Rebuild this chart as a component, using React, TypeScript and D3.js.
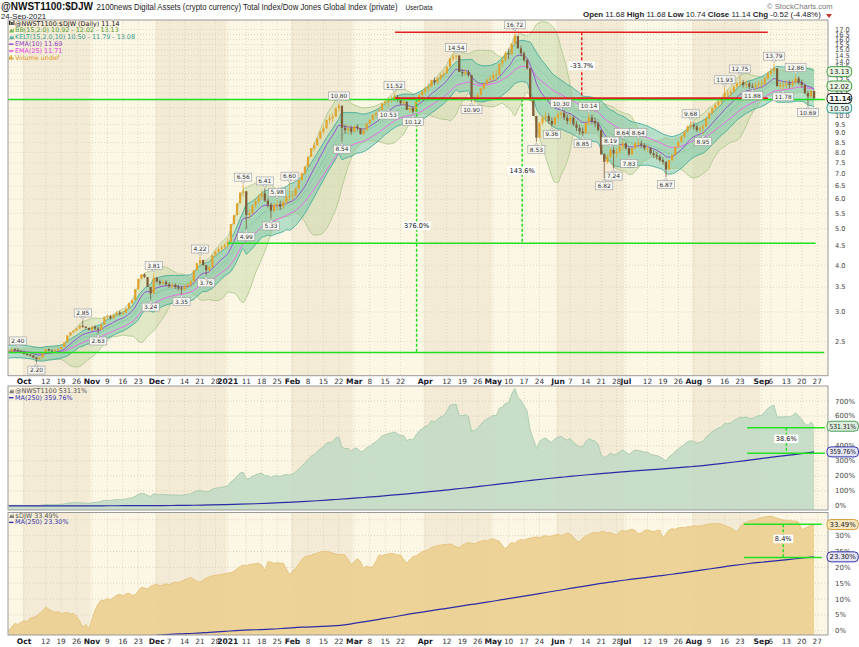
import React from "react";
import * as d3 from "d3";

// ---------------- DATA ----------------
// Daily closes of @NWST1100:$DJW, one per weekday from 24-Sep-2020 to 24-Sep-2021
const CLOSE: number[] = [
  2.355, 2.39, 2.37, 2.36, 2.35, 2.32, 2.31, 2.30, 2.27, 2.25,
  2.27, 2.33, 2.39, 2.37, 2.36, 2.38, 2.39, 2.42, 2.49, 2.60,
  2.65, 2.68, 2.71, 2.76, 2.74, 2.72, 2.69, 2.74, 2.71, 2.69,
  2.78, 2.91, 2.92, 2.89, 2.95, 2.99, 2.97, 2.99, 3.06, 3.17,
  3.23, 3.45, 3.68, 3.78, 3.72, 3.50, 3.36, 3.70, 3.62, 3.58,
  3.61, 3.56, 3.52, 3.54, 3.50, 3.47, 3.45, 3.52, 3.55, 3.62,
  3.88, 4.05, 4.13, 4.00, 3.88, 3.95, 4.25, 4.35, 4.42, 4.47,
  4.53, 4.62, 5.15, 5.44, 5.85, 6.25, 6.30, 5.45, 5.50, 5.78,
  5.92, 6.09, 6.22, 5.95, 5.80, 5.60, 5.79, 5.82, 5.74, 5.90,
  6.09, 6.12, 6.15, 6.41, 6.75, 7.03, 7.32, 7.79, 8.20, 8.37,
  8.72, 9.08, 9.27, 9.76, 9.86, 9.96, 10.49, 10.65, 9.30, 9.17,
  9.27, 9.08, 9.37, 9.27, 8.95, 9.17, 9.56, 9.76, 10.06, 10.17,
  10.38, 10.81, 10.92, 11.03, 11.10, 11.25, 11.03, 10.81, 10.92, 10.38,
  10.49, 10.27, 10.92, 11.37, 11.60, 11.85, 11.97, 12.47, 12.30, 12.60,
  12.86, 13.00, 13.54, 14.25, 14.40, 14.50, 13.10, 13.00, 13.10, 12.86,
  11.03, 11.15, 11.37, 11.85, 12.20, 12.47, 12.60, 12.86, 12.86, 13.80,
  14.10, 14.70, 14.60, 15.60, 16.35, 15.15, 14.70, 14.10, 13.40, 11.00,
  10.00, 8.75, 9.60, 9.90, 10.00, 9.70, 9.50, 9.90, 10.10, 10.20,
  9.90, 9.70, 9.90, 9.50, 9.30, 9.10, 9.00, 9.60, 9.90, 9.70,
  9.56, 9.18, 7.90, 7.55, 7.79, 8.12, 7.95, 8.03, 8.28, 8.45,
  8.20, 7.90, 8.20, 8.45, 8.45, 8.37, 8.20, 8.20, 7.95, 7.87,
  7.79, 7.63, 7.55, 7.20, 7.63, 7.87, 8.28, 8.54, 8.80, 9.08,
  9.37, 9.46, 9.37, 9.18, 9.27, 9.37, 9.86, 10.17, 10.49, 10.70,
  10.92, 11.03, 11.50, 11.50, 11.60, 11.97, 12.20, 12.30, 12.10, 12.20,
  11.97, 11.95, 12.10, 12.20, 12.20, 12.60, 13.00, 13.20, 13.40, 12.00,
  12.10, 12.10, 12.20, 12.10, 12.30, 12.60, 12.30, 12.10, 11.50, 11.28,
  11.66, 11.14,
];

// Typical intraday high-low range (% of price) per month, Sep-2020 .. Sep-2021
const MONTH_RANGE_PCT: number[] = [1.8, 1.8, 3.0, 3.5, 6.0, 5.5, 4.0, 4.5, 6.5, 6.0, 4.5, 4.5, 5.0];

// $DJW performance (% since first bar), same days
const DJW_PCT: number[] = [
  0, 1.2, 2.3, 2.0, 2.6, 3.2, 2.8, 4.0, 4.2, 4.6,
  5.5, 6.2, 7.4, 6.8, 6.2, 5.8, 6.0, 5.4, 5.6, 5.8,
  5.2, 5.5, 4.5, 3.0, 1.0, 2.0, 0.5, 3.5, 6.5, 8.5,
  9.7, 9.5, 10.2, 9.7, 10.5, 11.2, 11.5, 11.0, 11.6, 11.8,
  11.2, 11.3, 12.5, 13.7, 13.5, 13.2, 14.0, 14.4, 14.6, 14.2,
  14.4, 14.8, 14.5, 15.0, 15.4, 15.2, 15.6, 16.0, 16.5, 16.8,
  16.2, 15.6, 15.3, 16.0, 16.6, 17.0, 17.3, 17.5, 17.6, 17.8,
  18.0, 18.2, 18.3, 18.8, 19.5, 20.2, 20.7, 20.5, 20.9, 21.0,
  21.2, 21.3, 20.6, 19.0, 21.8, 21.6, 21.2, 21.4, 21.3, 21.3,
  19.5, 17.6, 18.8, 19.7, 21.0, 22.5, 23.4, 23.6, 23.8, 24.2,
  24.5, 24.8, 25.0, 25.0, 24.8, 24.5, 24.2, 24.0, 24.0, 23.9,
  22.5, 20.7, 21.8, 22.8, 21.8, 19.7, 20.4, 20.0, 20.2, 21.8,
  23.9, 23.6, 24.0, 24.2, 24.4, 24.2, 23.9, 23.9, 22.5, 21.3,
  22.4, 23.4, 23.6, 24.2, 25.0, 25.2, 25.5, 26.3, 26.5, 26.8,
  27.0, 27.2, 27.1, 27.4, 27.0, 26.5, 26.2, 27.0, 27.5, 27.8,
  27.6, 27.4, 27.9, 28.2, 28.5, 28.3, 28.8, 29.0, 28.6, 28.2,
  26.8, 25.8, 27.0, 27.8, 27.5, 28.4, 28.8, 28.5, 29.0, 29.2,
  29.4, 29.6, 29.3, 29.8, 30.0, 29.7, 29.9, 30.2, 30.4, 30.0,
  30.3, 30.8, 30.5, 29.5, 28.4, 28.0, 29.2, 29.8, 30.4, 30.8,
  31.0, 30.8, 31.2, 31.4, 30.8, 31.0, 30.5, 30.2, 31.2, 31.6,
  31.4, 31.8, 32.0, 31.6, 30.6, 30.8, 31.6, 31.8, 31.5, 31.2,
  31.6, 31.8, 29.1, 30.6, 31.8, 32.2, 32.0, 32.4, 32.6, 32.5,
  32.8, 32.9, 33.1, 33.0, 33.0, 33.2, 33.5, 33.6, 33.8, 33.7,
  33.9, 33.6, 33.2, 32.8, 32.5, 31.8, 31.2, 32.6, 33.9, 34.2,
  34.6, 34.8, 35.0, 35.5, 35.6, 35.9, 36.0, 36.1, 35.8, 35.5,
  35.2, 34.9, 34.8, 34.7, 34.6, 34.6, 34.2, 31.8, 32.3, 32.8,
  33.2, 33.49,
];

// MA(250) of @NWST1100 performance, sampled weekly [bar index, %]
const NWST_MA250: [number, number][] = [
  [0, -1], [5, -1], [10, -1], [15, -0.9], [20, -0.8], [25, -0.7], [30, -0.5], [35, -0.3],
  [40, 0], [45, 0.5], [50, 1], [55, 2], [60, 3], [65, 5], [70, 7], [75, 10], [80, 13],
  [85, 17], [90, 22], [95, 27], [100, 33], [105, 40], [110, 47], [115, 55], [120, 63],
  [125, 72], [130, 81], [135, 91], [140, 101], [145, 112], [150, 123], [155, 135],
  [160, 147], [165, 159], [170, 171], [175, 182], [180, 192], [185, 202], [190, 211],
  [195, 220], [200, 228], [205, 236], [210, 243], [215, 251], [220, 259], [225, 268],
  [230, 280], [235, 292], [240, 305], [245, 318], [250, 331], [255, 343], [260, 357], [261, 359.76],
];

// MA(250) of $DJW performance, sampled weekly [bar index, %]
const DJW_MA250: [number, number][] = [
  [0, -6], [5, -5.6], [10, -5.2], [15, -4.8], [20, -4.4], [25, -4], [30, -3.5], [35, -3],
  [40, -2.5], [45, -1.8], [50, -1.3], [55, -1.0], [60, -0.8], [65, -0.5], [70, -0.2],
  [75, 0.1], [80, 0.3], [85, 0.5], [90, 0.8], [95, 1.1], [100, 1.3], [105, 1.5], [110, 2.0],
  [115, 2.8], [120, 3.6], [125, 4.4], [130, 5.3], [135, 6.0], [140, 6.8], [145, 7.5],
  [150, 8.3], [155, 9.0], [160, 9.8], [165, 10.6], [170, 11.4], [175, 12.2], [180, 13.0],
  [185, 13.8], [190, 14.6], [195, 15.3], [200, 16.0], [205, 16.6], [210, 17.2], [215, 17.8],
  [220, 18.5], [225, 19.2], [230, 19.9], [235, 20.6], [240, 21.2], [245, 21.7], [250, 22.2],
  [255, 22.7], [260, 23.2], [261, 23.3],
];

// Swing high / low price labels [bar index, value, H|L]
const PRICE_LABELS: [number, number, string][] = [
  [3, 2.40, "H"], [9, 2.20, "L"], [24, 2.85, "H"], [29, 2.63, "L"], [47, 3.81, "H"],
  [46, 3.24, "L"], [56, 3.35, "L"], [62, 4.22, "H"], [64, 3.76, "L"], [76, 6.56, "H"],
  [77, 4.99, "L"], [83, 6.41, "H"], [87, 5.98, "H"], [85, 5.33, "L"], [91, 6.60, "H"],
  [107, 10.80, "H"], [108, 8.54, "L"], [125, 11.52, "H"], [123, 10.53, "L"], [131, 10.12, "L"],
  [145, 14.54, "H"], [150, 10.90, "L"], [164, 16.72, "H"], [171, 8.53, "L"], [176, 9.36, "L"],
  [179, 10.30, "H"], [188, 10.14, "H"], [186, 8.85, "L"], [195, 8.19, "H"], [199, 8.64, "H"],
  [193, 6.82, "L"], [196, 7.24, "L"], [201, 7.83, "L"], [204, 8.64, "H"], [213, 6.87, "L"],
  [221, 9.68, "H"], [225, 8.95, "L"], [232, 11.93, "H"], [237, 12.75, "H"], [241, 11.88, "L"],
  [248, 13.79, "H"], [251, 11.78, "L"], [255, 12.86, "H"], [259, 10.69, "L"],
];

// x-axis labels [label, date, isMonth]
const X_TICKS: [string, string, boolean][] = [
  ["Oct", "2020-10-01", true], ["12", "2020-10-12", false], ["19", "2020-10-19", false], ["26", "2020-10-26", false],
  ["Nov", "2020-11-02", true], ["9", "2020-11-09", false], ["16", "2020-11-16", false], ["23", "2020-11-23", false],
  ["Dec", "2020-12-01", true], ["7", "2020-12-07", false], ["14", "2020-12-14", false], ["21", "2020-12-21", false],
  ["28", "2020-12-28", false], ["2021", "2021-01-01", true], ["11", "2021-01-11", false], ["18", "2021-01-18", false],
  ["25", "2021-01-25", false], ["Feb", "2021-02-01", true], ["8", "2021-02-08", false], ["15", "2021-02-15", false],
  ["22", "2021-02-22", false], ["Mar", "2021-03-01", true], ["8", "2021-03-08", false], ["15", "2021-03-15", false],
  ["22", "2021-03-22", false], ["Apr", "2021-04-01", true], ["12", "2021-04-12", false], ["19", "2021-04-19", false],
  ["26", "2021-04-26", false], ["May", "2021-05-03", true], ["10", "2021-05-10", false], ["17", "2021-05-17", false],
  ["24", "2021-05-24", false], ["Jun", "2021-06-01", true], ["7", "2021-06-07", false], ["14", "2021-06-14", false],
  ["21", "2021-06-21", false], ["28", "2021-06-28", false], ["Jul", "2021-07-01", true], ["12", "2021-07-12", false],
  ["19", "2021-07-19", false], ["26", "2021-07-26", false], ["Aug", "2021-08-02", true], ["9", "2021-08-09", false],
  ["16", "2021-08-16", false], ["23", "2021-08-23", false], ["Sep", "2021-09-01", true], ["6", "2021-09-06", false],
  ["13", "2021-09-13", false], ["20", "2021-09-20", false], ["27", "2021-09-27", false],
];

const MAIN_TICKS = [2.5, 3, 3.5, 4, 4.5, 5, 5.5, 6, 6.5, 7, 7.5, 8, 8.5, 9, 9.5, 10, 10.5, 11, 11.5, 12, 12.5, 13, 13.5, 14, 14.5, 15, 15.5, 16, 16.5, 17];
const NWST_TICKS = [0, 100, 200, 300, 400, 500, 600, 700];
const DJW_TICKS = [0, 5, 10, 15, 20, 25, 30, 35];

// Drawn trend/measure levels
const LEVEL_TOP = 16.72;
const LEVEL_RESIST = 11.12;
const LEVEL_MID = 4.58;
const LEVEL_BASE = 2.34;
const MEASURE_LABELS = ["-33.7%", "143.6%", "376.0%"];
const NWST_BAND = [521, 350];
const DJW_BAND = [33.6, 23.1];
const BAND_LABELS = ["38.6%", "8.4%"];

// Last values shown in legends / axis tags
const LAST = { close: 11.14, bbLo: 10.92, bbMid: 12.02, bbUp: 13.13, kLo: 10.50, kMid: 11.79, kUp: 13.08, ema10: 11.69, ema25: 11.71 };
const NWST_LAST = 531.31, NWST_MA_LAST = 359.76, DJW_LAST = 33.49, DJW_MA_LAST = 23.30;
const HEADER_OHLC: [string, string][] = [["Open", "11.68"], ["High", "11.68"], ["Low", "10.74"], ["Close", "11.14"], ["Chg", "-0.52 (-4.48%)"]];

// ---------------- HELPERS ----------------
const DATES: number[] = [];
{
  let t = Date.UTC(2020, 8, 24);
  while (DATES.length < 266) {
    const wd = new Date(t).getUTCDay();
    if (wd !== 0 && wd !== 6) DATES.push(t);
    t += 86400000;
  }
}
function idxOf(s: string) {
  const [yy, mm, dd] = s.split("-").map(Number);
  return DATES.indexOf(Date.UTC(yy, mm - 1, dd));
}
function monthSlot(i: number) {
  const d = new Date(DATES[i]);
  return (d.getUTCFullYear() - 2020) * 12 + d.getUTCMonth() - 8;
}
function ema(a: number[], p: number) {
  const k = 2 / (p + 1);
  const out: number[] = [];
  a.forEach((v, i) => out.push(i === 0 ? v : v * k + out[i - 1] * (1 - k)));
  return out;
}
function tw(s: string, fs: number) {
  let w = 0;
  for (const ch of s) {
    if (ch === "." || ch === ",") w += 0.318;
    else if (ch === "%") w += 0.95;
    else if (ch === "-") w += 0.36;
    else w += 0.636;
  }
  return w * fs;
}

const FONT = "DejaVu Sans, Verdana, sans-serif";
const AFONT = "Liberation Sans, Arial, sans-serif";

export default function App() {
  const N = CLOSE.length;
  const X0 = 8.67, DX = 3.086;
  const x = d3.scaleLinear().domain([0, 262]).range([X0, X0 + 262 * DX]);
  const PL = 8, PR = 828;
  const M = { t: 20, b: 375.7 };
  const P2 = { t: 386, b: 510 };
  const P3 = { t: 512.5, b: 635 };
  const y = d3.scaleLog().domain([2.03, 18.03]).range([M.b, M.t]);
  const y2 = d3.scaleLinear().domain([0, 700]).range([505.7, 401]);
  const y3 = d3.scaleLinear().domain([0, 35]).range([630.7, 519.75]);

  const OPEN = CLOSE.map((c, i) => (i === 0 ? c : CLOSE[i - 1]));
  const HIGH = CLOSE.map((c, i) => {
    const mid = (c + OPEN[i]) / 2;
    return Math.max(c, OPEN[i], mid * (1 + MONTH_RANGE_PCT[monthSlot(i)] / 200));
  });
  const LOW = CLOSE.map((c, i) => {
    const mid = (c + OPEN[i]) / 2;
    return Math.min(c, OPEN[i], mid * (1 - MONTH_RANGE_PCT[monthSlot(i)] / 200));
  });
  PRICE_LABELS.forEach(([i, v, t]) => {
    if (t === "H") HIGH[i] = v;
    else LOW[i] = v;
  });

  const ema10 = ema(CLOSE, 10);
  const ema25 = ema(CLOSE, 25);
  const bb = CLOSE.map((_, i) => {
    const s = CLOSE.slice(Math.max(0, i - 14), i + 1);
    const m = d3.mean(s) as number;
    const sd = Math.sqrt(d3.mean(s.map((v) => (v - m) ** 2)) as number);
    return { m, up: m + 2 * sd, lo: m - 2 * sd };
  });
  const tr = CLOSE.map((c, i) =>
    i === 0 ? HIGH[0] - LOW[0] : Math.max(HIGH[i] - LOW[i], Math.abs(HIGH[i] - CLOSE[i - 1]), Math.abs(LOW[i] - CLOSE[i - 1]))
  );
  const atr: number[] = [];
  const seed = d3.mean(tr.slice(0, 10)) as number;
  tr.forEach((v, i) => atr.push(i === 0 ? seed : (atr[i - 1] * 9 + v) / 10));
  const kmid = ema(CLOSE, 15);
  const kel = kmid.map((m, i) => ({ m, up: m + 2 * atr[i], lo: m - 2 * atr[i] }));

  const idxs = d3.range(N);
  const bbArea = d3.area<number>().x((i) => x(i)).y0((i) => y(bb[i].lo)).y1((i) => y(bb[i].up)).curve(d3.curveMonotoneX);
  const kArea = d3.area<number>().x((i) => x(i)).y0((i) => y(kel[i].lo)).y1((i) => y(kel[i].up)).curve(d3.curveMonotoneX);
  const lineOf = (f: (i: number) => number) => d3.line<number>().x((i) => x(i)).y((i) => y(f(i))).curve(d3.curveMonotoneX)(idxs) as string;

  const nwst = CLOSE.map((c, i) => ((c / CLOSE[0]) * (1 + DJW_PCT[i] / 100) - 1) * 100);
  const nwstArea = d3.area<number>().x((i) => x(i)).y0(P2.b).y1((i) => y2(nwst[i]))(idxs) as string;
  const nwstLine = d3.line<number>().x((i) => x(i)).y((i) => y2(nwst[i]))(idxs) as string;
  const djwArea = d3.area<number>().x((i) => x(i)).y0(P3.b).y1((i) => y3(DJW_PCT[i]))(idxs) as string;
  const djwLine = d3.line<number>().x((i) => x(i)).y((i) => y3(DJW_PCT[i]))(idxs) as string;
  const nwMaLine = d3.line<[number, number]>().x((d) => x(d[0])).y((d) => y2(d[1])).curve(d3.curveMonotoneX)(NWST_MA250) as string;
  const djMaLine = d3.line<[number, number]>().x((d) => x(d[0])).y((d) => y3(d[1])).curve(d3.curveMonotoneX)(DJW_MA250) as string;

  // month bands
  const months: { first: number; last: number; m: number; key: number }[] = [];
  DATES.forEach((t, i) => {
    const d = new Date(t);
    const key = d.getUTCFullYear() * 12 + d.getUTCMonth();
    const cur = months[months.length - 1];
    if (!cur || cur.key !== key) months.push({ first: i, last: i, m: d.getUTCMonth(), key });
    else cur.last = i;
  });
  const bands = months
    .filter((mo) => mo.m % 2 === 1)
    .map((mo) => ({ x0: Math.max(PL, x(mo.first) - DX / 2), x1: Math.min(PR, x(mo.last) + DX / 2) }));

  const ticks = X_TICKS.map(([label, date, bold]) => ({ label, bold, i: idxOf(date) }));

  const panelBg = (key: string, t: number, b: number) => (
    <g key={key}>
      <rect x={PL} y={t} width={PR - PL} height={b - t} fill="#fcf6e4" />
      {bands.map((bd, k) => (
        <rect key={k} x={bd.x0} y={t} width={bd.x1 - bd.x0} height={b - t} fill="#f4ebd6" />
      ))}
      {ticks.map((tk, k) => (
        <line key={"v" + k} x1={x(tk.i)} x2={x(tk.i)} y1={t} y2={b} stroke="#d6cdb9" strokeWidth={0.7} strokeDasharray="1,2" />
      ))}
    </g>
  );

  const candleW = 2.2;
  const upC = "#e0a42e", dnC = "#7f5b36";

  const labelBox = (k: number, i: number, v: number, t: string) => {
    const fs = 5.9;
    const txt = v.toFixed(2);
    const w = tw(txt, fs) + 4;
    const cx = x(i);
    const py = y(v);
    const by = t === "H" ? py - 11.5 : py + 3.5;
    const tip = t === "H" ? `M${cx - 2},${py - 3.6} L${cx},${py - 1} L${cx + 2},${py - 3.6} Z` : `M${cx - 2},${py + 3.6} L${cx},${py + 1} L${cx + 2},${py + 3.6} Z`;
    return (
      <g key={"pl" + k}>
        <rect x={cx - w / 2} y={by} width={w} height={8} fill="#f7f7f2" stroke="#9a9a9a" strokeWidth={0.6} />
        <path d={tip} fill="#f7f7f2" stroke="#9a9a9a" strokeWidth={0.6} />
        <text x={cx} y={by + 6.2} fontSize={fs} fontFamily={FONT} textAnchor="middle" fill="#333">{txt}</text>
      </g>
    );
  };

  const tag = (k: string, yy: number, text: string, stroke: string, fill: string, bold = false) => {
    const fs = 6.9;
    const natural = tw(text, fs);
    const maxText = 858.5 - 827 - 5;
    const textW = Math.min(natural, maxText);
    const w = textW + 5;
    return (
      <g key={k}>
        <rect x={827} y={yy - 5} width={w} height={10} rx={4} fill={fill} stroke={stroke} strokeWidth={1} />
        <text x={829.5} y={yy + 2.5} fontSize={fs} fontFamily={FONT} fontWeight={bold ? "bold" : "normal"} fill="#222"
          {...(natural > maxText ? { textLength: textW, lengthAdjust: "spacingAndGlyphs" } : {})}>{text}</text>
      </g>
    );
  };

  const measure = (k: string, xi: number, v0: number, v1: number, label: string, color: string, ly: number) => (
    <g key={k}>
      <line x1={x(xi)} x2={x(xi)} y1={y(v0)} y2={y(v1)} stroke={color} strokeWidth={1.5} strokeDasharray="3,2" />
      <rect x={x(xi) - tw(label, 6.6) / 2 - 1.5} y={ly - 6} width={tw(label, 6.6) + 3} height={8.5} fill="#fff" />
      <text x={x(xi)} y={ly} fontSize={6.6} fontFamily={FONT} textAnchor="middle" fill="#111">{label}</text>
    </g>
  );

  const legend = (items: [string, string, string][], x0: number, y0: number, dy: number) =>
    items.map(([txt, col, icon], k) => (
      <g key={txt}>
        {icon === "line" && <line x1={x0} x2={x0 + 4.5} y1={y0 + k * dy - 2} y2={y0 + k * dy - 2} stroke={col} strokeWidth={1.4} />}
        {icon === "mount" && <path d={`M${x0},${y0 + k * dy} L${x0 + 2},${y0 + k * dy - 4} L${x0 + 3.2},${y0 + k * dy - 2} L${x0 + 4.5},${y0 + k * dy - 4.5} L${x0 + 5},${y0 + k * dy} Z`} fill={col} opacity={0.75} />}
        {icon === "bar" && <path d={`M${x0},${y0 + k * dy} h1.2 v-3 h-1.2Z M${x0 + 1.6},${y0 + k * dy} h1.2 v-4.5 h-1.2Z M${x0 + 3.2},${y0 + k * dy} h1.2 v-2.4 h-1.2Z`} fill={col} />}
        {icon === "candle" && <path d={`M${x0},${y0 + k * dy - 4.5} h1.5 v4 h-1.5Z M${x0 + 2.2},${y0 + k * dy - 3.5} h1.5 v3 h-1.5Z M${x0 + 4.4},${y0 + k * dy - 5} h1 v4.5 h-1Z`} fill={col} />}
        <text x={x0 + 6} y={y0 + k * dy} fontSize={6.4} fontFamily={FONT} fill={col}>{txt}</text>
      </g>
    ));

  const f2 = (v: number) => v.toFixed(2);
  const mainLegend: [string, string, string][] = [
    [`@NWST1100:$DJW (Daily) ${f2(LAST.close)}`, "#222", "candle"],
    [`BB(15,2.0) ${f2(LAST.bbLo)} - ${f2(LAST.bbMid)} - ${f2(LAST.bbUp)}`, "#4f9a2c", "mount"],
    [`KELT(15,2.0,10) ${f2(LAST.kLo)} - ${f2(LAST.kMid)} - ${f2(LAST.kUp)}`, "#2f9a8c", "mount"],
    [`EMA(10) ${f2(LAST.ema10)}`, "#9140c4", "line"],
    [`EMA(25) ${f2(LAST.ema25)}`, "#e244e2", "line"],
    ["Volume undef", "#d89a24", "bar"],
  ];

  const xLabels = (yb: number) =>
    ticks.map((tk, k) => (
      <text key={k} x={x(tk.i)} y={yb} fontSize={tk.bold ? 7.6 : 7.3} fontWeight={tk.bold ? "bold" : "normal"} fontFamily={FONT} textAnchor="middle" fill={tk.bold ? "#1a1a2a" : "#333"}>
        {tk.label}
      </text>
    ));

  const mainTagValues = [LAST.bbUp, LAST.bbMid, LAST.close, LAST.kLo];
  const visibleMainTicks = MAIN_TICKS.filter((v) => mainTagValues.every((t) => Math.abs(y(v) - y(t)) > 4.5));
  const p2TagValues = [NWST_LAST, NWST_MA_LAST];
  const p3TagValues = [DJW_LAST, DJW_MA_LAST];

  return (
    <svg width={859} height={647} style={{ position: "absolute", left: 0, top: 0, background: "#fff" }}>
      <defs>
        <clipPath id="cM"><rect x={PL} y={M.t} width={PR - PL} height={M.b - M.t} /></clipPath>
        <clipPath id="c2"><rect x={PL} y={P2.t} width={PR - PL} height={P2.b - P2.t} /></clipPath>
        <clipPath id="c3"><rect x={PL} y={P3.t} width={PR - PL} height={P3.b - P3.t} /></clipPath>
      </defs>
      <rect width={859} height={647} fill="#fff" />

      {/* header */}
      <text x={1} y={10} fontSize={10.3} fontWeight="bold" fontFamily={AFONT} fill="#111" textLength={92} lengthAdjust="spacingAndGlyphs">@NWST1100:$DJW</text>
      <text x={96.5} y={10} fontSize={8.6} fontFamily={AFONT} fill="#222" textLength={301} lengthAdjust="spacingAndGlyphs">2100news Digital Assets (crypto currency) Total Index/Dow Jones Global Index (private)</text>
      <text x={405.5} y={10} fontSize={6.4} fontFamily={AFONT} fill="#222">UserData</text>
      <text x={1} y={18.6} fontSize={7.8} fontFamily={AFONT} fill="#222">24-Sep-2021</text>
      <text x={767} y={8.6} fontSize={7.6} fontFamily={AFONT} fill="#777">© StockCharts.com</text>
      <text x={583} y={17.2} fontSize={7.9} fontFamily={AFONT} fill="#222">
        {HEADER_OHLC.map(([k, v], j) => (
          <React.Fragment key={k}>
            <tspan fontWeight="bold">{(j ? " " : "") + k}</tspan>
            <tspan>{" " + v}</tspan>
          </React.Fragment>
        ))}
      </text>
      <path d="M826,14 L832,14 L829,18 Z" fill="#c0392b" />

      {/* ---------- main panel ---------- */}
      {panelBg("bgM", M.t, M.b)}
      {MAIN_TICKS.map((v) => (
        <line key={"h" + v} x1={PL} x2={PR} y1={y(v)} y2={y(v)} stroke="#d6cdb9" strokeWidth={0.7} strokeDasharray="1,2" />
      ))}
      <g clipPath="url(#cM)">
        <path d={bbArea(idxs) as string} fill="#bcd39e" fillOpacity={0.42} stroke="none" />
        <path d={kArea(idxs) as string} fill="#52bfa3" fillOpacity={0.4} stroke="none" />
        <path d={lineOf((i) => bb[i].up)} fill="none" stroke="#a9c68a" strokeWidth={0.8} />
        <path d={lineOf((i) => bb[i].lo)} fill="none" stroke="#a9c68a" strokeWidth={0.8} />
        <path d={lineOf((i) => bb[i].m)} fill="none" stroke="#8fb872" strokeWidth={0.6} strokeDasharray="1,1.5" />
        <path d={lineOf((i) => kel[i].up)} fill="none" stroke="#46ad9c" strokeWidth={0.9} />
        <path d={lineOf((i) => kel[i].lo)} fill="none" stroke="#46ad9c" strokeWidth={0.9} />
        <path d={lineOf((i) => kel[i].m)} fill="none" stroke="#46ad9c" strokeWidth={0.6} strokeDasharray="1,1.5" />
        <path d={lineOf((i) => ema25[i])} fill="none" stroke="#ea6ce8" strokeWidth={1} />
        <path d={lineOf((i) => ema10[i])} fill="none" stroke="#9652cf" strokeWidth={1} />
        {idxs.map((i) => {
          const o = OPEN[i], c = CLOSE[i];
          const col = c >= o ? upC : dnC;
          const top = y(Math.max(o, c)), bot = y(Math.min(o, c));
          return (
            <g key={"c" + i}>
              <line x1={x(i)} x2={x(i)} y1={y(HIGH[i])} y2={y(LOW[i])} stroke={col} strokeWidth={0.8} />
              <rect x={x(i) - candleW / 2} y={top} width={candleW} height={Math.max(1, bot - top)} fill={col} />
            </g>
          );
        })}
        {/* levels */}
        <line x1={PL} x2={x(264.5)} y1={y(LEVEL_RESIST) + 0.8} y2={y(LEVEL_RESIST) + 0.8} stroke="#1fe01f" strokeWidth={1.6} />
        <line x1={x(125.2)} x2={x(246)} y1={y(LEVEL_RESIST) - 0.6} y2={y(LEVEL_RESIST) - 0.6} stroke="#e01f1f" strokeWidth={1.6} />
        <line x1={x(125.2)} x2={x(246)} y1={y(LEVEL_TOP)} y2={y(LEVEL_TOP)} stroke="#e01f1f" strokeWidth={1.6} />
        <line x1={x(71.1)} x2={x(261.5)} y1={y(LEVEL_MID)} y2={y(LEVEL_MID)} stroke="#1fe01f" strokeWidth={1.6} />
        <line x1={PL} x2={x(264.3)} y1={y(LEVEL_BASE)} y2={y(LEVEL_BASE)} stroke="#1fe01f" strokeWidth={1.6} />
        {measure("m1", 185.7, LEVEL_TOP, LEVEL_RESIST, MEASURE_LABELS[0], "#e82020", 67.5)}
        {measure("m2", 166.4, LEVEL_RESIST, LEVEL_MID, MEASURE_LABELS[1], "#22dd22", 172.5)}
        {measure("m3", 132.2, LEVEL_RESIST, LEVEL_BASE, MEASURE_LABELS[2], "#22dd22", 227.5)}
        {PRICE_LABELS.map(([i, v, t], k) => labelBox(k, i, v, t))}
      </g>
      <rect x={PL} y={M.t} width={PR - PL} height={M.b - M.t} fill="none" stroke="#9a9a9a" strokeWidth={1} />
      {legend(mainLegend, 9, 25.6, 6.85)}
      {visibleMainTicks.map((v) => (
        <text key={"yl" + v} x={835} y={y(v) + 2.3} fontSize={6.6} fontFamily={FONT} fill="#444">{v.toFixed(1)}</text>
      ))}
      {tag("t1", y(LAST.bbUp), f2(LAST.bbUp), "#3c9a3c", "#eaf4e2")}
      {tag("t2", y(LAST.bbMid), f2(LAST.bbMid), "#3c9a3c", "#eaf4e2")}
      {tag("t4", y(LAST.kLo), f2(LAST.kLo), "#2f9a8c", "#e6f4ef")}
      {tag("t3", y(LAST.close), f2(LAST.close), "#111", "#fff", true)}

      {xLabels(384.2)}

      {/* ---------- panel 2 ---------- */}
      {panelBg("bg2", P2.t, P2.b)}
      {NWST_TICKS.map((v) => (
        <line key={"h2" + v} x1={PL} x2={PR} y1={y2(v)} y2={y2(v)} stroke="#cfc6b2" strokeWidth={0.7} strokeDasharray="1,2" />
      ))}
      <g clipPath="url(#c2)">
        <path d={nwstArea} fill="#bfd9c4" fillOpacity={0.85} />
        <path d={nwstLine} fill="none" stroke="#9fc6a8" strokeWidth={0.8} />
        <path d={nwMaLine} fill="none" stroke="#2b2ba6" strokeWidth={1.2} />
        {NWST_BAND.map((v, k) => (
          <line key={"nb" + k} x1={x(239.3)} x2={x(264.5)} y1={y2(v)} y2={y2(v)} stroke="#22e022" strokeWidth={1.5} />
        ))}
        <line x1={x(252)} x2={x(252)} y1={y2(NWST_BAND[0])} y2={y2(NWST_BAND[1])} stroke="#22dd22" strokeWidth={1.4} strokeDasharray="3,2" />
        <rect x={x(252) - tw(BAND_LABELS[0], 6.6) / 2 - 1.5} y={y2(435) - 6} width={tw(BAND_LABELS[0], 6.6) + 3} height={8.5} fill="#fff" />
        <text x={x(252)} y={y2(435)} fontSize={6.6} fontFamily={FONT} textAnchor="middle" fill="#111">{BAND_LABELS[0]}</text>
      </g>
      <rect x={PL} y={P2.t} width={PR - PL} height={P2.b - P2.t} fill="none" stroke="#9a9a9a" strokeWidth={1} />
      {legend([[`@NWST1100 ${NWST_LAST.toFixed(2)}%`, "#555", "mount"], [`MA(250) ${NWST_MA_LAST.toFixed(2)}%`, "#3333aa", "line"]], 9, 393.3, 6.4)}
      {NWST_TICKS.filter((v) => p2TagValues.every((t) => Math.abs(y2(v) - y2(t)) > 5)).map((v) => (
        <text key={"y2" + v} x={835} y={y2(v) + 2.5} fontSize={7} fontFamily={FONT} fill="#444">{v}%</text>
      ))}
      {tag("t5", y2(NWST_LAST), NWST_LAST.toFixed(2) + "%", "#4aa05a", "#dcecdc")}
      {tag("t6", y2(NWST_MA_LAST), NWST_MA_LAST.toFixed(2) + "%", "#3333aa", "#e4e4f4")}

      {/* ---------- panel 3 ---------- */}
      {panelBg("bg3", P3.t, P3.b)}
      {DJW_TICKS.map((v) => (
        <line key={"h3" + v} x1={PL} x2={PR} y1={y3(v)} y2={y3(v)} stroke="#cfc6b2" strokeWidth={0.7} strokeDasharray="1,2" />
      ))}
      <g clipPath="url(#c3)">
        <path d={djwArea} fill="#ebcf8f" fillOpacity={0.9} />
        <path d={djwLine} fill="none" stroke="#e3bf76" strokeWidth={0.8} />
        <path d={djMaLine} fill="none" stroke="#2b2ba6" strokeWidth={1.2} />
        {DJW_BAND.map((v, k) => (
          <line key={"db" + k} x1={x(238.3)} x2={x(263.5)} y1={y3(v)} y2={y3(v)} stroke="#22e022" strokeWidth={1.5} />
        ))}
        <line x1={x(251)} x2={x(251)} y1={y3(DJW_BAND[0])} y2={y3(DJW_BAND[1])} stroke="#22dd22" strokeWidth={1.4} strokeDasharray="3,2" />
        <rect x={x(251) - tw(BAND_LABELS[1], 6.6) / 2 - 1.5} y={y3(28.4) - 6} width={tw(BAND_LABELS[1], 6.6) + 3} height={8.5} fill="#fff" />
        <text x={x(251)} y={y3(28.4)} fontSize={6.6} fontFamily={FONT} textAnchor="middle" fill="#111">{BAND_LABELS[1]}</text>
      </g>
      <rect x={PL} y={P3.t} width={PR - PL} height={P3.b - P3.t} fill="none" stroke="#9a9a9a" strokeWidth={1} />
      {legend([[`$DJW ${DJW_LAST.toFixed(2)}%`, "#555", "mount"], [`MA(250) ${DJW_MA_LAST.toFixed(2)}%`, "#3333aa", "line"]], 9, 518, 6.4)}
      {DJW_TICKS.filter((v) => p3TagValues.every((t) => Math.abs(y3(v) - y3(t)) > 5)).map((v) => (
        <text key={"y3" + v} x={835} y={y3(v) + 2.5} fontSize={7} fontFamily={FONT} fill="#444">{v}%</text>
      ))}
      {tag("t7", y3(DJW_LAST), DJW_LAST.toFixed(2) + "%", "#d4a03c", "#f6e6c0")}
      {tag("t8", y3(DJW_MA_LAST), DJW_MA_LAST.toFixed(2) + "%", "#3333aa", "#e4e4f4")}

      {xLabels(643.5)}
    </svg>
  );
}
